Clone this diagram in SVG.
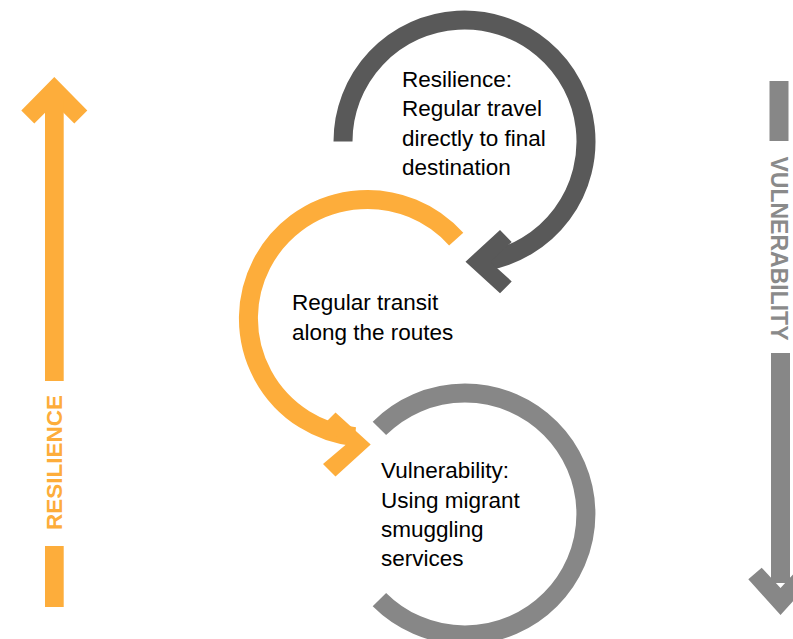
<svg xmlns="http://www.w3.org/2000/svg" width="793" height="639" viewBox="0 0 793 639">
<style>
.lbl{font-family:"Liberation Sans",Arial,sans-serif;font-size:22.5px;fill:#000}
.axis{font-family:"Liberation Sans",Arial,sans-serif;font-weight:bold;text-anchor:middle}
.arc{fill:none;stroke-width:19;stroke-linecap:butt}
</style>
<rect width="793" height="639" fill="#fff"/>
<g id="resilience-axis">
<polygon points="54.3,77 87.3,110.5 74.3,123.5 54.3,103.5 34.3,123.5 21.3,110.5" fill="#FDAD3B"/>
<rect x="45" y="100" width="18.7" height="281" fill="#FDAD3B"/>
<rect x="45" y="546" width="18.7" height="61" fill="#FDAD3B"/>
<text class="axis" x="54.3" y="470.5" font-size="22.5" fill="#FDAD3B" transform="rotate(-90 54.3 462.5)">RESILIENCE</text>
</g>
<g id="vulnerability-axis">
<rect x="769.5" y="81" width="19" height="60" fill="#878787"/>
<rect x="771" y="353" width="19" height="230" fill="#878787"/>
<polygon points="780.5,615 748.3,579.3 761.7,567.7 780.5,588 799.3,567.7 812.7,579.3" fill="#878787"/>
<text class="axis" x="779" y="256.7" font-size="23" fill="#8a8a8a" transform="rotate(90 779 248.5)">VULNERABILITY</text>
</g>
<g id="connectors">
<path class="arc" stroke="#595959" d="M343,141.5 A121.5,121.5 0 1 1 485.6,261.2"/>
<polygon points="465.5,261.7 500,230 511.7,242 490,261.7 511.7,281.4 500,293.3" fill="#595959"/>
<path class="arc" stroke="#FDAD3B" d="M456.2,239.2 A119,119 0 1 0 355,436.8"/>
<polygon points="370.7,444.5 335.5,412.5 323,425 346,444.5 323,464 335.5,476.5" fill="#FDAD3B"/>
<path class="arc" stroke="#878787" d="M379.4,428.4 A121,121 0 1 1 379.4,599.6"/>
</g>
<g id="node-resilience">
<text class="lbl" x="402" y="86.5">Resilience:</text>
<text class="lbl" x="402" y="116">Regular travel</text>
<text class="lbl" x="402" y="145.5">directly to final</text>
<text class="lbl" x="402" y="175">destination</text>
</g>
<g id="node-transit">
<text class="lbl" x="292" y="310">Regular transit</text>
<text class="lbl" x="292" y="340">along the routes</text>
</g>
<g id="node-vulnerability">
<text class="lbl" x="381" y="478">Vulnerability:</text>
<text class="lbl" x="381" y="507.5">Using migrant</text>
<text class="lbl" x="381" y="536.5">smuggling</text>
<text class="lbl" x="381" y="565.5">services</text>
</g>
</svg>
